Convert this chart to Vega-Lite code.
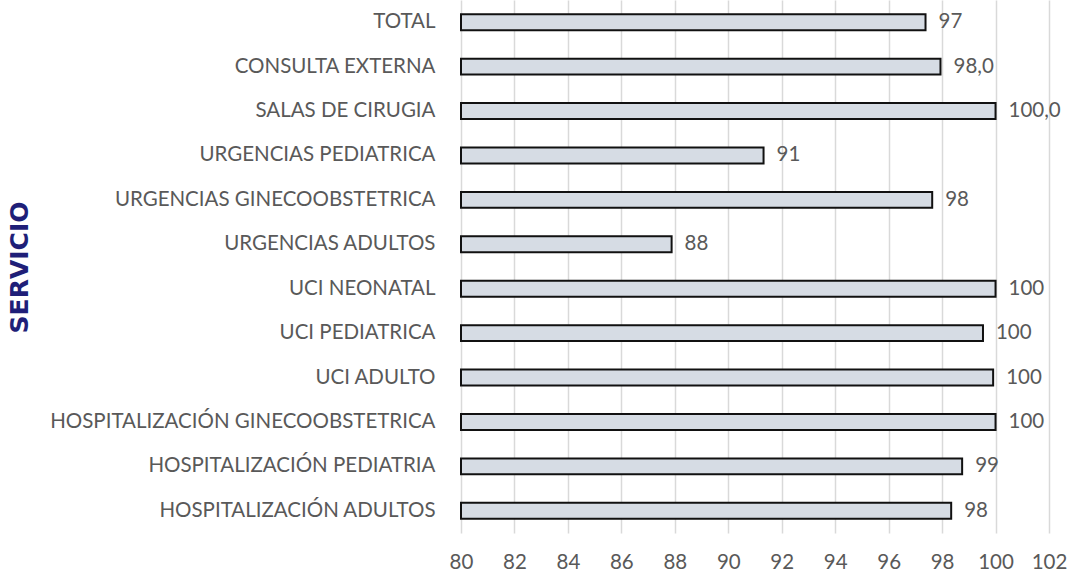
{
  "$schema": "https://vega.github.io/schema/vega-lite/v6.json",
  "autosize": "none",
  "width": 588,
  "height": 533,
  "padding": {"left": 461, "top": 0, "right": 22, "bottom": 42},
  "background": "white",
  "config": {
    "view": {"stroke": null},
    "font": "Lato"
  },
  "data": {
    "values": [
      {"servicio": "TOTAL", "valor": 97.38, "etiqueta": "97"},
      {"servicio": "CONSULTA EXTERNA", "valor": 97.94, "etiqueta": "98,0"},
      {"servicio": "SALAS DE CIRUGIA", "valor": 100.0, "etiqueta": "100,0"},
      {"servicio": "URGENCIAS PEDIATRICA", "valor": 91.32, "etiqueta": "91"},
      {"servicio": "URGENCIAS GINECOOBSTETRICA", "valor": 97.63, "etiqueta": "98"},
      {"servicio": "URGENCIAS ADULTOS", "valor": 87.88, "etiqueta": "88"},
      {"servicio": "UCI NEONATAL", "valor": 100.0, "etiqueta": "100"},
      {"servicio": "UCI PEDIATRICA", "valor": 99.53, "etiqueta": "100"},
      {"servicio": "UCI ADULTO", "valor": 99.91, "etiqueta": "100"},
      {"servicio": "HOSPITALIZACIÓN GINECOOBSTETRICA", "valor": 100.0, "etiqueta": "100"},
      {"servicio": "HOSPITALIZACIÓN PEDIATRIA", "valor": 98.75, "etiqueta": "99"},
      {"servicio": "HOSPITALIZACIÓN ADULTOS", "valor": 98.34, "etiqueta": "98"}
    ]
  },
  "encoding": {
    "y": {
      "field": "servicio",
      "type": "nominal",
      "sort": null,
      "scale": {"paddingInner": 0.64, "paddingOuter": 0.32},
      "axis": {
        "title": "SERVICIO",
        "titleFont": "DejaVu Sans",
        "titleFontWeight": "bold",
        "titleFontSize": 25,
        "titleColor": "#1f1f78",
        "titleX": -442,
        "titleY": 267,
        "titleAngle": -90,
        "titleAlign": "center",
        "titleBaseline": "middle",
        "labelFontSize": 20.5,
        "labelColor": "#595959",
        "labelPadding": 26,
        "ticks": false,
        "domain": false,
        "grid": false,
        "labelLimit": 500
      }
    },
    "x": {
      "field": "valor",
      "type": "quantitative",
      "scale": {"domain": [80, 102], "zero": false, "nice": false},
      "axis": {
        "title": null,
        "values": [80, 82, 84, 86, 88, 90, 92, 94, 96, 98, 100, 102],
        "labelFontSize": 20.5,
        "labelColor": "#595959",
        "labelPadding": 19,
        "labelFlush": false,
        "labelOverlap": false,
        "ticks": false,
        "domain": false,
        "grid": true,
        "gridColor": "#d9d9d9",
        "gridWidth": 1.5
      }
    }
  },
  "layer": [
    {
      "mark": {"type": "bar", "fill": "#d6dce4", "stroke": "#111111", "strokeWidth": 2},
      "encoding": {"x2": {"datum": 80}}
    },
    {
      "mark": {"type": "text", "align": "left", "baseline": "middle", "dx": 13, "fontSize": 20.5, "color": "#595959"},
      "encoding": {
        "text": {"field": "etiqueta"}
      }
    }
  ]
}
